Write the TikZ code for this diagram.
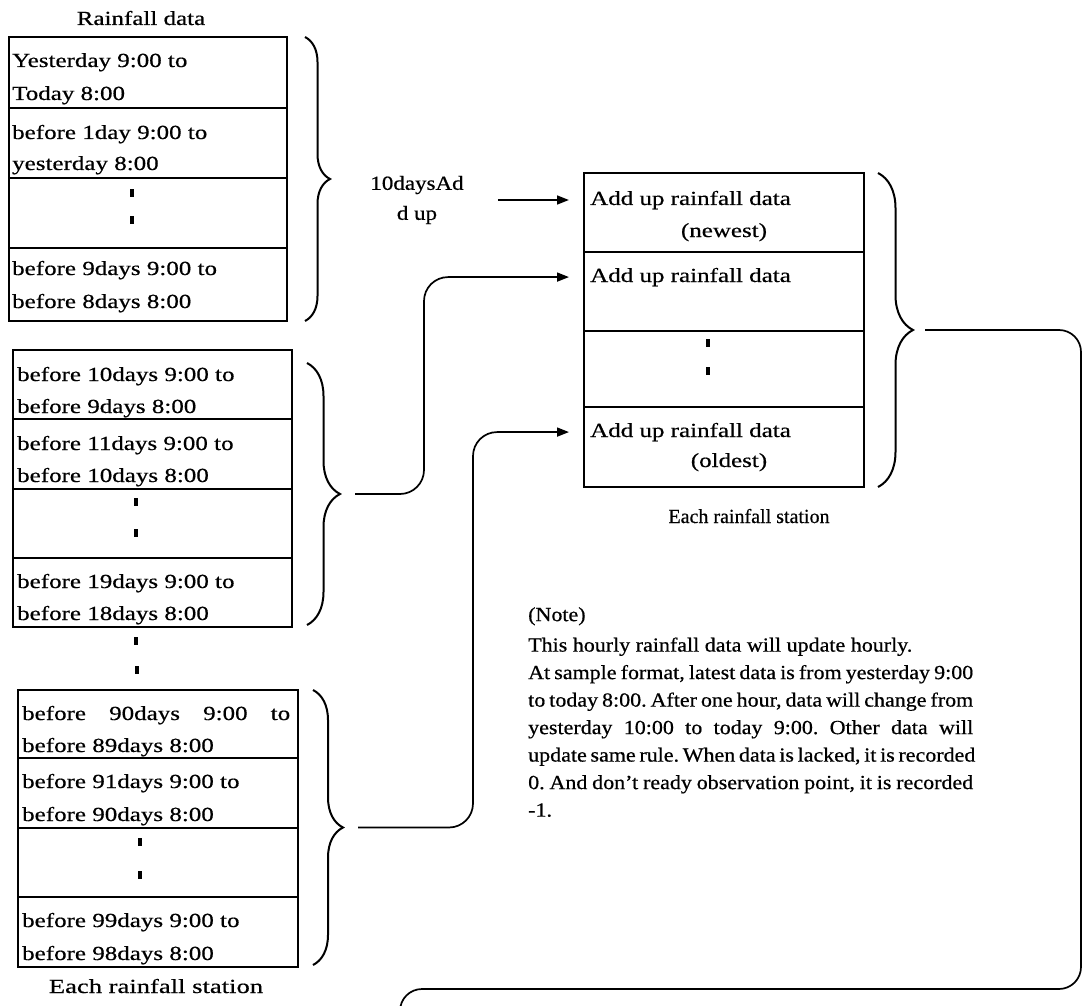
\documentclass[tikz,border=0pt]{standalone}
\usepackage{fontspec}
\setmainfont{Liberation Serif}
% Serif faces widened by different amounts for the various text blocks
\newfontfamily\cellfont{Liberation Serif}[Ligatures=TeX,FakeStretch=1.25,FakeBold=0.6]
\newfontfamily\notefont{Liberation Serif}[Ligatures=TeX,FakeStretch=1.1,FakeBold=0.6]
\newfontfamily\narrowfont{Liberation Serif}[Ligatures=TeX,FakeStretch=1.0,FakeBold=0.6]
\newfontfamily\widefont{Liberation Serif}[Ligatures=TeX,FakeStretch=1.33,FakeBold=0.6]
\newfontfamily\labelfont{Liberation Serif}[Ligatures=TeX,FakeStretch=1.15,FakeBold=0.6]
\usetikzlibrary{arrows.meta,decorations.pathreplacing,positioning,calc}
\frenchspacing

\begin{document}
\begin{tikzpicture}[x=1pt,y=-1pt,
  cell/.style={draw,line width=1.2pt,minimum width=#1,minimum height=70pt,
               inner sep=0pt,outer sep=0pt,anchor=north west},
  frame/.style={line width=1.8pt},
  txt/.style={font={\cellfont\fontsize{20pt}{24pt}\selectfont},inner sep=0pt,anchor=base west},
  ctxt/.style={txt,anchor=base},
  vdot/.style={fill,minimum width=3.5pt,minimum height=8.5pt,inner sep=0pt,outer sep=0pt},
  brc/.style={line width=2pt,decorate,decoration={brace,amplitude=#1,aspect=0.5}},
  conn/.style={line width=1.7pt,rounded corners=24pt},
  arr/.style={conn,-{Triangle[length=12pt,width=9pt]}},
]
\useasboundingbox (0,0) rectangle (1088,1006);
\clip (0,0) rectangle (1088,1006);

% ---------- first block: the latest ten days ----------
\node[ctxt] (title) at (141,25) {Rainfall data};
\node[cell=278pt,minimum height=71pt] (t1a) at (9,37) {};
\node[cell=278pt,below=0pt of t1a] (t1b) {};
\node[cell=278pt,below=0pt of t1b] (t1c) {};
\node[cell=278pt,minimum height=73pt,below=0pt of t1c] (t1d) {};
\draw[frame] (t1a.north west) rectangle (t1d.south east);
\node[txt] (t1a1) at ([shift={(3,30)}]t1a.north west) {Yesterday 9:00 to};
\node[txt] (t1a2) at ([shift={(3,63)}]t1a.north west) {Today 8:00};
\node[txt] (t1b1) at ([shift={(3,31)}]t1b.north west) {before 1day 9:00 to};
\node[txt] (t1b2) at ([shift={(3,62)}]t1b.north west) {yesterday 8:00};
\node[vdot] (t1c1) at ([shift={(123,15)}]t1c.north west) {};
\node[vdot] (t1c2) at ([shift={(123,42)}]t1c.north west) {};
\node[txt] (t1d1) at ([shift={(3,27)}]t1d.north west) {before 9days 9:00 to};
\node[txt] (t1d2) at ([shift={(3,60)}]t1d.north west) {before 8days 8:00};

% ---------- second block ----------
\node[cell=279pt,minimum height=69pt] (t2a) at (13,350) {};
\node[cell=279pt,below=0pt of t2a] (t2b) {};
\node[cell=279pt,minimum height=69pt,below=0pt of t2b] (t2c) {};
\node[cell=279pt,minimum height=69pt,below=0pt of t2c] (t2d) {};
\draw[frame] (t2a.north west) rectangle (t2d.south east);
\node[txt] (t2a1) at ([shift={(4,31)}]t2a.north west) {before 10days 9:00 to};
\node[txt] (t2a2) at ([shift={(4,63)}]t2a.north west) {before 9days 8:00};
\node[txt] (t2b1) at ([shift={(4,31)}]t2b.north west) {before 11days 9:00 to};
\node[txt] (t2b2) at ([shift={(4,63)}]t2b.north west) {before 10days 8:00};
\node[vdot] (t2c1) at ([shift={(123,13)}]t2c.north west) {};
\node[vdot] (t2c2) at ([shift={(123,44)}]t2c.north west) {};
\node[txt] (t2d1) at ([shift={(4,30)}]t2d.north west) {before 19days 9:00 to};
\node[txt] (t2d2) at ([shift={(4,62)}]t2d.north west) {before 18days 8:00};

% dots between the second and last block
\node[vdot] (gap1) at (136,641) {};
\node[vdot] (gap2) at (137,670) {};

% ---------- last block ----------
\node[cell=280pt,minimum height=68pt] (t3a) at (18,690) {};
\node[cell=280pt,below=0pt of t3a] (t3b) {};
\node[cell=280pt,minimum height=69pt,below=0pt of t3b] (t3c) {};
\node[cell=280pt,below=0pt of t3c] (t3d) {};
\draw[frame] (t3a.north west) rectangle (t3d.south east);
\node[txt] (t3a1) at ([shift={(4,30)}]t3a.north west) {\makebox[268pt][s]{before 90days 9:00 to}};
\node[txt] (t3a2) at ([shift={(4,62)}]t3a.north west) {before 89days 8:00};
\node[txt] (t3b1) at ([shift={(4,30)}]t3b.north west) {before 91days 9:00 to};
\node[txt] (t3b2) at ([shift={(4,63)}]t3b.north west) {before 90days 8:00};
\node[vdot] (t3c1) at ([shift={(122,14)}]t3c.north west) {};
\node[vdot] (t3c2) at ([shift={(122,47)}]t3c.north west) {};
\node[txt] (t3d1) at ([shift={(4,30)}]t3d.north west) {before 99days 9:00 to};
\node[txt] (t3d2) at ([shift={(4,63)}]t3d.north west) {before 98days 8:00};
\node[ctxt,font={\widefont\fontsize{20pt}{24pt}\selectfont}] (st1) at ([shift={(-2,26)}]t3d.south) {Each rainfall station};

% ---------- accumulated block ----------
\node[cell=280pt,minimum height=79pt] (r1) at (584,173) {};
\node[cell=280pt,minimum height=79pt,below=0pt of r1] (r2) {};
\node[cell=280pt,minimum height=76pt,below=0pt of r2] (r3) {};
\node[cell=280pt,minimum height=80pt,below=0pt of r3] (r4) {};
\draw[frame] (r1.north west) rectangle (r4.south east);
\node[txt] (a1) at ([shift={(6,32)}]r1.north west) {Add up rainfall data};
\node[ctxt] (a1n) at ([shift={(0,64)}]r1.north) {(newest)};
\node[txt] (a2) at ([shift={(6,30)}]r2.north west) {Add up rainfall data};
\node[vdot] (r3d1) at ([shift={(124,12)}]r3.north west) {};
\node[vdot] (r3d2) at ([shift={(124,40)}]r3.north west) {};
\node[txt] (a4) at ([shift={(6,30)}]r4.north west) {Add up rainfall data};
\node[ctxt] (a4o) at ([shift={(5,60)}]r4.north) {(oldest)};
\node[ctxt,font={\narrowfont\fontsize{20pt}{24pt}\selectfont}] (st2) at ([shift={(25,36)}]r4.south) {Each rainfall station};

% ---------- braces ----------
\coordinate (b1s) at (305,37);  \coordinate (b1e) at (305,321);
\coordinate (b2s) at (307,363); \coordinate (b2e) at (307,625);
\coordinate (b3s) at (313,690); \coordinate (b3e) at (313,965);
\coordinate (b4s) at (878,173); \coordinate (b4e) at (878,487);
\draw[brc=25pt] (b1s) -- (b1e);
\draw[brc=33pt] (b2s) -- (b2e);
\draw[brc=30pt] (b3s) -- (b3e);
\draw[brc=35pt] (b4s) -- (b4e);
\coordinate (b1tip) at ($(b1s)!0.5!(b1e)+(25,0)$);
\coordinate (b2tip) at ($(b2s)!0.5!(b2e)+(33,0)$);
\coordinate (b3tip) at ($(b3s)!0.5!(b3e)+(30,0)$);
\coordinate (b4tip) at ($(b4s)!0.5!(b4e)+(35,0)$);

% ---------- connectors ----------
\node[align=center,inner sep=0pt,font={\labelfont\fontsize{20pt}{30pt}\selectfont}] (lbl) at (417,200) {10daysAd\\d up};
\draw[arr,shorten <=34pt,shorten >=21pt] (lbl.east) -- (lbl.east -| a1.west);

\coordinate (bus2) at (424,0);
\coordinate (bus3) at (473,0);
\draw[arr,shorten >=21pt] ([xshift=15pt]b2tip) -- (b2tip -| bus2) -- (bus2 |- a2.west) -- (a2.west);
\draw[arr,shorten >=21pt] ([xshift=15pt]b3tip) -- (b3tip -| bus3) -- (bus3 |- a4.west) -- (a4.west);

\coordinate (busR) at (1081,0);
\coordinate (busB) at (0,989);
\coordinate (loopend) at (400,1040);
\draw[conn,rounded corners=22pt] ([xshift=12pt]b4tip) -- (b4tip -| busR) -- (busR |- busB)
  -- (loopend |- busB) -- (loopend);

% ---------- note ----------
\node[anchor=north west,inner sep=0pt,align=left,
      font={\notefont\fontsize{20pt}{27.5pt}\selectfont}] (note) at (528,607) {%
(Note)\\[3pt]
This hourly rainfall data will update hourly.\\
\makebox[445pt][s]{At sample format, latest data is from yesterday 9:00}\\
\makebox[445pt][s]{to today 8:00. After one hour, data will change from}\\
\makebox[445pt][s]{yesterday 10:00 to today 9:00. Other data will}\\
\makebox[445pt][s]{update same rule. When data is lacked, it is recorded}\\
\makebox[445pt][s]{0. And don’t ready observation point, it is recorded}\\
-1.};
\end{tikzpicture}
\end{document}
